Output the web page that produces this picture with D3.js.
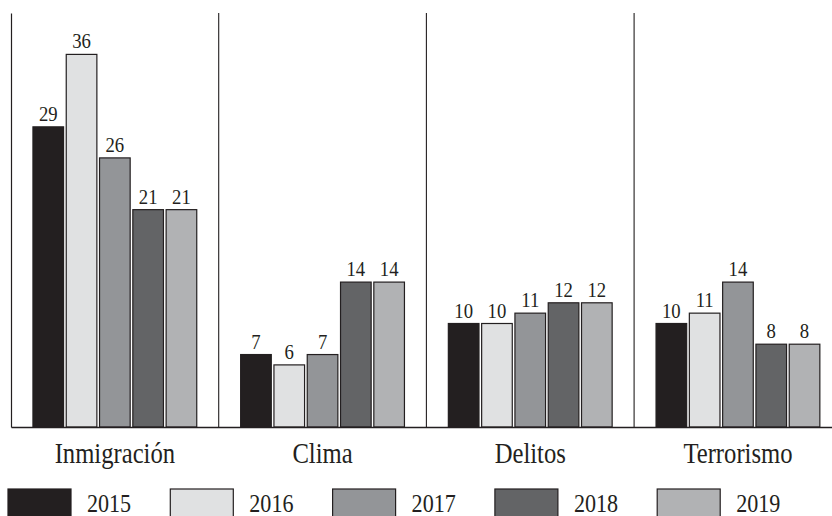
<!DOCTYPE html>
<html>
<head>
<meta charset="utf-8">
<script src="https://cdn.jsdelivr.net/npm/d3@7"></script>
<style>
  html, body { margin: 0; padding: 0; background: #ffffff; }
  svg { display: block; }
  text { font-family: "Liberation Serif", "Times New Roman", serif; fill: #231f20; }
</style>
</head>
<body>
<svg id="chart" width="832" height="516"></svg>
<script>
// Topics and survey years
const categories = ["Inmigración", "Clima", "Delitos", "Terrorismo"];
const years = ["2015", "2016", "2017", "2018", "2019"];

// Percentage per topic, one array per year
const values2015 = [29, 7, 10, 10];
const values2016 = [36, 6, 10, 11];
const values2017 = [26, 7, 11, 14];
const values2018 = [21, 14, 12, 8];
const values2019 = [21, 14, 12, 8];

const seriesValues = [values2015, values2016, values2017, values2018, values2019];
const yearColors = ["#231f20", "#e0e1e2", "#939598", "#636466", "#b1b2b4"];

const ink = "#231f20";
const condense = "scale(0.85,1)";

const svg = d3.select("#chart");

const panelW = 207.7;
const plotLeft = 11, plotBase = 427, plotTop = 13;

const x0 = d3.scaleBand()
  .domain(categories)
  .range([plotLeft, plotLeft + panelW * categories.length])
  .padding(0);

const groupW = 163.8;
const x1 = d3.scaleBand()
  .domain(years)
  .range([(panelW - groupW) / 2, (panelW + groupW) / 2])
  .paddingInner(0.08)
  .paddingOuter(0);

const y = d3.scaleLinear().domain([0, 40]).range([plotBase, plotTop]);

const color = d3.scaleOrdinal().domain(years).range(yearColors);

// Flatten into one record per bar
const rows = [];
categories.forEach((c, ci) => {
  years.forEach((yr, yi) => {
    rows.push({ category: c, year: yr, value: seriesValues[yi][ci] });
  });
});

// Panel dividers
svg.append("g")
  .selectAll("line")
  .data(categories.slice(1))
  .join("line")
  .attr("x1", d => x0(d)).attr("x2", d => x0(d))
  .attr("y1", y(40)).attr("y2", plotBase)
  .attr("stroke", ink).attr("stroke-width", 1.1);

// Bars
const groups = svg.append("g")
  .selectAll("g")
  .data(categories)
  .join("g")
  .attr("transform", d => `translate(${x0(d)},0)`);

groups.selectAll("rect")
  .data(c => rows.filter(r => r.category === c))
  .join("rect")
  .attr("x", d => x1(d.year))
  .attr("y", d => y(d.value))
  .attr("width", x1.bandwidth())
  .attr("height", d => plotBase - y(d.value))
  .attr("fill", d => color(d.year))
  .attr("stroke", ink)
  .attr("stroke-width", 1.2);

// Value labels above bars
groups.selectAll("text")
  .data(c => rows.filter(r => r.category === c))
  .join("text")
  .attr("transform", d => `translate(${x1(d.year) + x1.bandwidth() / 2},${y(d.value) - 6}) ${condense}`)
  .attr("text-anchor", "middle")
  .attr("font-size", 22)
  .text(d => d.value);

// Left axis line
svg.append("g")
  .attr("transform", `translate(${plotLeft},0)`)
  .call(d3.axisLeft(y).tickValues([]).tickSizeOuter(0))
  .call(g => g.select(".domain").attr("stroke", ink).attr("stroke-width", 1.2));

// Category axis along the baseline
svg.append("g")
  .attr("transform", `translate(0,${plotBase})`)
  .call(d3.axisBottom(x0).tickSize(0).tickSizeOuter(0).tickPadding(36))
  .call(g => g.select(".domain").attr("stroke", ink).attr("stroke-width", 1.4))
  .call(g => g.selectAll(".tick text")
    .attr("font-family", "'Liberation Serif', serif")
    .attr("font-size", 29)
    .attr("fill", ink)
    .attr("dy", 0)
    .attr("transform", condense));

// Legend
const legend = svg.append("g")
  .selectAll("g")
  .data(years)
  .join("g")
  .attr("transform", (d, i) => `translate(${8 + i * 162.3},489)`);

legend.append("rect")
  .attr("width", 63).attr("height", 30)
  .attr("fill", d => color(d))
  .attr("stroke", ink).attr("stroke-width", 1.2);

legend.append("text")
  .attr("transform", `translate(79,23) ${condense}`)
  .attr("font-size", 26)
  .text(d => d);
</script>
</body>
</html>
